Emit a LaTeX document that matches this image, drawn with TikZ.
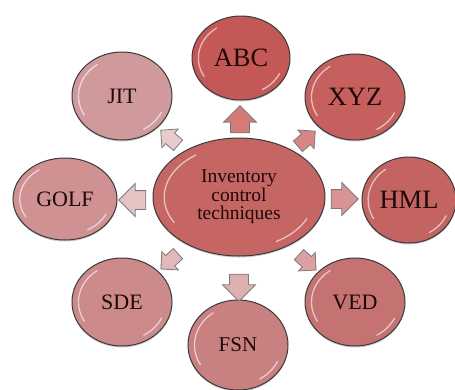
\documentclass[tikz,border=0pt]{standalone}
\usepackage{fontspec}
\setmainfont{Liberation Serif}
\usetikzlibrary{shapes.geometric,shapes.arrows,shadows}
\definecolor{bubline}{HTML}{3A3A3A}
\definecolor{arrline}{HTML}{7A7A7A}
\definecolor{txt}{HTML}{1E0808}
\definecolor{cMain}{HTML}{C66664}
\definecolor{cABC}{HTML}{C45856}
\definecolor{cXYZ}{HTML}{C5605E}
\definecolor{cHML}{HTML}{C36462}
\definecolor{cVED}{HTML}{C57272}
\definecolor{cFSN}{HTML}{C98080}
\definecolor{cSDE}{HTML}{CC8A8A}
\definecolor{cGOLF}{HTML}{CF9192}
\definecolor{cJIT}{HTML}{D09A9C}
\definecolor{aABC}{HTML}{D47A78}
\definecolor{aXYZ}{HTML}{D78886}
\definecolor{aHML}{HTML}{DA9393}
\definecolor{aVED}{HTML}{DCA0A0}
\definecolor{aFSN}{HTML}{E0B0B0}
\definecolor{aSDE}{HTML}{E2B8B8}
\definecolor{aGOLF}{HTML}{E6C4C4}
\definecolor{aJIT}{HTML}{E8CCCC}
\newcommand\glossy[3]{%
  \draw[gloss] (#1.center) ++(150:{0.87*#2} and {0.87*#3})
    arc[start angle=150,end angle=235,x radius={0.87*#2},y radius={0.87*#3}];
  \draw[gloss] (#1.center) ++(25:{0.87*#2} and {0.87*#3})
    arc[start angle=25,end angle=60,x radius={0.87*#2},y radius={0.87*#3}];
}
\begin{document}
\begin{tikzpicture}[x=1pt,y=-1pt,
  bub/.style={ellipse, draw=bubline, line width=1pt, inner sep=0pt, text=txt,
    drop shadow={shadow xshift=0pt, shadow yshift=-1.5pt, opacity=.2, fill=black}},
  big/.style={font=\fontsize{26.5}{28}\selectfont},
  mid/.style={font=\fontsize{22}{24}\selectfont},
  arr/.style={single arrow, draw=arrline, line width=0.8pt, inner xsep=0pt,
    single arrow tip angle=90, single arrow head indent=0pt},
  ortho/.style={arr, minimum height=27pt, inner ysep=9pt, single arrow head extend=7pt},
  diag/.style={arr, minimum height=23pt, inner ysep=6.5pt, single arrow head extend=5.5pt},
  gloss/.style={white, opacity=.6, line width=1.3pt, line cap=round}
]
\useasboundingbox (0,0) rectangle (455,389);

% central ellipse
\node[bub, fill=cMain, minimum width=172pt, minimum height=118pt, align=center,
  font=\fontsize{19.5}{18.5}\selectfont] (main) at (239,197) {Inventory\\control\\techniques};

% outer ellipses
\node[bub, big, fill=cABC,  minimum width=98pt,  minimum height=84pt] (abc)  at (241,58)  {ABC};
\node[bub, big, fill=cXYZ,  minimum width=100pt, minimum height=86pt] (xyz)  at (355,97)  {XYZ};
\node[bub, big, fill=cHML,  minimum width=94pt,  minimum height=86pt] (hml)  at (409,200) {HML};
\node[bub, mid, fill=cVED,  minimum width=100pt, minimum height=88pt] (ved)  at (355,302) {VED};
\node[bub, font=\fontsize{21}{23}\selectfont, fill=cFSN, minimum width=100pt, minimum height=90pt] (fsn) at (238,345) {FSN};
\node[bub, mid, fill=cSDE,  minimum width=100pt, minimum height=88pt] (sde)  at (122,302) {SDE};
\node[bub, mid, fill=cGOLF, minimum width=104pt, minimum height=82pt] (golf) at (65,199)  {GOLF};
\node[bub, mid, fill=cJIT,  minimum width=100pt, minimum height=88pt] (jit)  at (122,96)  {JIT};

\glossy{main}{86}{59}
\glossy{abc}{49}{42}
\glossy{xyz}{50}{43}
\glossy{hml}{47}{43}
\glossy{ved}{50}{44}
\glossy{fsn}{50}{45}
\glossy{sde}{50}{44}
\glossy{golf}{52}{41}
\glossy{jit}{50}{44}

% arrows
\node[ortho, fill=aABC,  rotate=90]   (arrabc)  at (240,124) {};
\node[diag,  fill=aXYZ,  rotate=41]   (arrxyz)  at (304,141) {};
\node[ortho, fill=aHML,  rotate=0]    (arrhml)  at (340,199) {};
\node[diag,  fill=aVED,  rotate=-42]  (arrved)  at (305,260) {};
\node[ortho, fill=aFSN,  rotate=-90]  (arrfsn)  at (239,283) {};
\node[diag,  fill=aSDE,  rotate=-138] (arrsde)  at (172,259) {};
\node[ortho, fill=aGOLF, rotate=180]  (arrgolf) at (137,200) {};
\node[diag,  fill=aJIT,  rotate=139]  (arrjit)  at (172,140) {};
\end{tikzpicture}
\end{document}
